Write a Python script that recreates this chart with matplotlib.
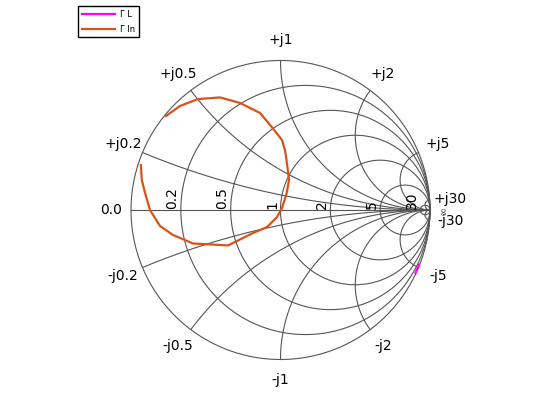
import numpy as np
import matplotlib
matplotlib.use("Agg")
import matplotlib.pyplot as plt

# chart grid values
R_VALUES = [0.2, 0.5, 1, 2, 5, 30]
X_VALUES = [0.2, 0.5, 1, 2, 5, 30]
R_LABELS = ["0.2", "0.5", "1", "2", "5", "30"]
X_LABELS = ["0.2", "0.5", "1", "2", "5", "30"]

GL_RE = [0.926, 0.915, 0.903]
GL_IM = [-0.366, -0.393, -0.421]

GIN_RE = [-0.934, -0.928, -0.906, -0.873, -0.806, -0.719, -0.585, -0.351,
          -0.184, -0.090, -0.023, 0.010, 0.040, 0.057, 0.043, 0.030, 0.010,
          -0.064, -0.137, -0.271, -0.405, -0.552, -0.672, -0.766]
GIN_IM = [0.301, 0.201, 0.114, 0.000, -0.107, -0.167, -0.224, -0.237,
          -0.154, -0.114, -0.047, 0.013, 0.107, 0.201, 0.314, 0.401, 0.468,
          0.562, 0.649, 0.716, 0.753, 0.742, 0.696, 0.629]

GRID = "#555555"
A = 1.4

fig = plt.figure(figsize=(5.6, 4.2), dpi=100)
W = 149.5 * A * 2
ax = fig.add_axes([(280.5 - W / 2) / 560, (210 - W / 2) / 420, W / 560, W / 420])
ax.set_xlim(-A, A)
ax.set_ylim(-A, A)
ax.axis("off")

t = np.linspace(0, 2 * np.pi, 400)
# outer circle and real axis
ax.plot(np.cos(t), np.sin(t), color=GRID, lw=0.8)
ax.plot([-1, 1], [0, 0], color=GRID, lw=0.8)

for r in R_VALUES:
    c, rad = r / (1 + r), 1 / (1 + r)
    ax.plot(c + rad * np.cos(t), rad * np.sin(t), color=GRID, lw=0.8)

rr = np.concatenate([[0], np.logspace(-3, 5, 600)])
for x in X_VALUES:
    for s in (1, -1):
        z = rr + 1j * s * x
        g = (z - 1) / (z + 1)
        ax.plot(g.real, g.imag, color=GRID, lw=0.8)

# labels
fs = 10
for x, lab in zip(X_VALUES, X_LABELS):
    ang = np.pi - 2 * np.arctan(x)
    for s, sign in ((1, "+"), (-1, "-")):
        ax.text(1.14 * np.cos(ang), s * 1.14 * np.sin(ang), sign + "j" + lab,
                ha="center", va="center", fontsize=fs)
ax.text(-1.135, 0, "0.0", ha="center", va="center", fontsize=fs)
for r, lab in zip(R_VALUES, R_LABELS):
    left = (r - 1) / (r + 1)
    ax.text(left - 0.01, 0.01, lab, rotation=90, ha="right", va="bottom", fontsize=fs)
ax.text(1.095, -0.005, "∞", rotation=90, ha="center", va="center", fontsize=8, color=GRID)

l1, = ax.plot(GL_RE, GL_IM, color="#ff00ff", lw=1.6)
l2, = ax.plot(GIN_RE, GIN_IM, color="#d95319", lw=1.6)

fig.legend([l1, l2], ["Γ L", "Γ In"], loc="upper left", bbox_to_anchor=(78 / 560, 1 - 6 / 420),
           fontsize=6, frameon=True, fancybox=False, edgecolor="black", framealpha=1,
           handlelength=4.0, handletextpad=0.6, borderpad=0.45, labelspacing=0.7,
           borderaxespad=0)

fig.savefig("out.png", dpi=100)
